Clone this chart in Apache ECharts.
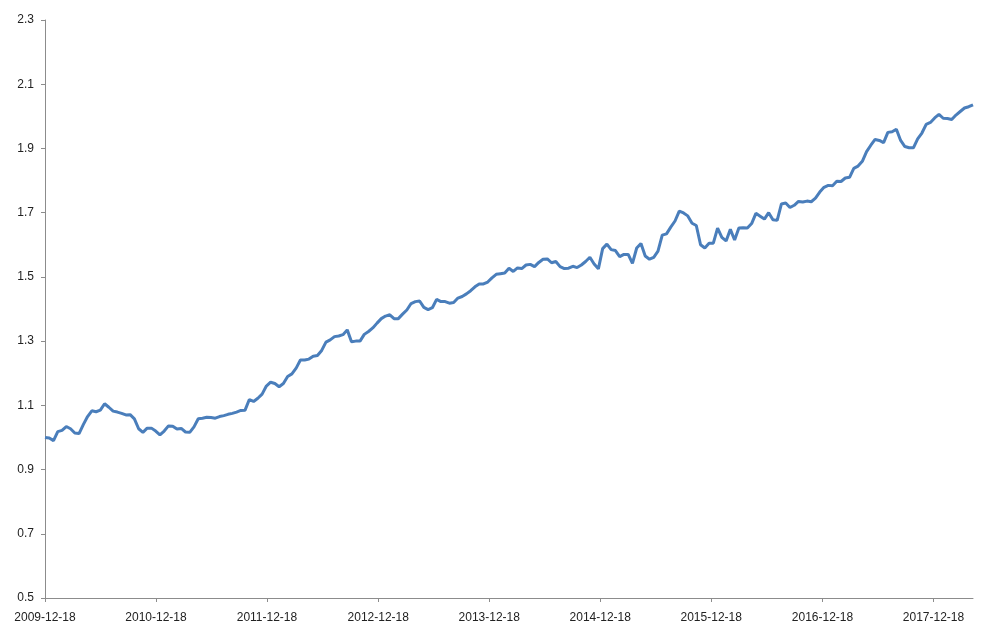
<!DOCTYPE html>
<html>
<head>
<meta charset="utf-8">
<script src="https://cdn.jsdelivr.net/npm/echarts@6/dist/echarts.min.js"></script>
<style>html,body{margin:0;padding:0;background:#fff}#c{width:990px;height:636px}</style>
</head>
<body>
<div id="c"></div>
<script>
// Biweekly series (every 14 days) starting 2009-12-18
const startDate = '2009-12-18';
const stepDays = 14;
const values = [
1.000,0.998,0.990,1.018,1.022,1.034,1.027,1.014,1.012,1.040,
1.065,1.083,1.080,1.085,1.105,1.094,1.082,1.079,1.075,1.070,
1.071,1.058,1.027,1.016,1.029,1.029,1.020,1.008,1.020,1.036,
1.035,1.026,1.028,1.017,1.016,1.033,1.058,1.060,1.063,1.062,
1.060,1.065,1.068,1.072,1.075,1.079,1.084,1.085,1.118,1.112,
1.122,1.135,1.160,1.172,1.168,1.158,1.168,1.190,1.198,1.216,
1.241,1.241,1.244,1.253,1.255,1.271,1.297,1.304,1.314,1.316,
1.320,1.335,1.298,1.300,1.300,1.321,1.330,1.341,1.356,1.370,
1.378,1.382,1.370,1.370,1.384,1.397,1.417,1.423,1.425,1.405,
1.398,1.404,1.430,1.423,1.423,1.418,1.420,1.434,1.439,1.447,
1.457,1.469,1.478,1.478,1.484,1.497,1.508,1.510,1.512,1.527,
1.517,1.528,1.526,1.537,1.539,1.532,1.545,1.555,1.556,1.544,
1.548,1.532,1.526,1.527,1.533,1.529,1.537,1.548,1.561,1.540,
1.525,1.588,1.602,1.585,1.582,1.563,1.570,1.570,1.542,1.590,
1.604,1.565,1.555,1.561,1.580,1.630,1.634,1.655,1.674,1.705,
1.699,1.690,1.667,1.660,1.600,1.590,1.605,1.605,1.652,1.623,
1.612,1.648,1.615,1.652,1.653,1.652,1.666,1.698,1.689,1.680,
1.700,1.678,1.676,1.727,1.730,1.716,1.723,1.735,1.733,1.736,
1.734,1.745,1.764,1.779,1.785,1.784,1.798,1.797,1.808,1.810,
1.838,1.845,1.860,1.890,1.910,1.928,1.925,1.918,1.950,1.952,
1.960,1.925,1.906,1.902,1.902,1.930,1.948,1.975,1.981,1.995,
2.006,1.994,1.993,1.990,2.004,2.015,2.026,2.030,2.036
];
const xLabels = ['2009-12-18','2010-12-18','2011-12-18','2012-12-18','2013-12-18','2014-12-18','2015-12-18','2016-12-18','2017-12-18'];
const yMin = 0.5, yMax = 2.3, yStep = 0.2;

const DAY = 86400000;
function parseUTC(s){ const p = s.split('-').map(Number); return Date.UTC(p[0], p[1]-1, p[2]); }
function fmtDays(n){ const d = new Date(parseUTC(startDate) + Math.round(n)*DAY);
  const m = d.getUTCMonth()+1, dd = d.getUTCDate();
  return d.getUTCFullYear()+'-'+(m<10?'0':'')+m+'-'+(dd<10?'0':'')+dd; }
const t0 = parseUTC(startDate);
const data = values.map((v,i)=>[i*stepDays, v]);
const labelDays = xLabels.map(s=>Math.round((parseUTC(s)-t0)/DAY));

const chart = echarts.init(document.getElementById('c'));
chart.setOption({
  animation: false,
  backgroundColor: '#fff',
  grid: { left: 45, right: 17, top: 20, bottom: 38, containLabel: false },
  xAxis: {
    type: 'value',
    min: 0,
    max: data[data.length-1][0],
    axisLine: { show: true, lineStyle: { color: '#8c8c8c', width: 1 } },
    axisTick: { show: true, customValues: labelDays, length: 4, lineStyle: { color: '#8c8c8c' } },
    axisLabel: { customValues: labelDays, formatter: (v)=>fmtDays(v), margin: 14, color: '#222', fontSize: 12, fontFamily: 'Liberation Sans, Arial, sans-serif', showMaxLabel: true, showMinLabel: true },
    splitLine: { show: false }
  },
  yAxis: {
    type: 'value',
    min: yMin, max: yMax, interval: yStep,
    axisLine: { show: true, lineStyle: { color: '#8c8c8c', width: 1 } },
    axisTick: { show: true, length: 4, lineStyle: { color: '#8c8c8c' } },
    axisLabel: { formatter: (v)=>v.toFixed(1), margin: 11, color: '#222', fontSize: 12, fontFamily: 'Liberation Sans, Arial, sans-serif' },
    splitLine: { show: false }
  },
  series: [{
    type: 'line',
    data: data,
    showSymbol: false,
    symbol: 'none',
    lineStyle: { color: '#4a7ebb', width: 3 },
    itemStyle: { color: '#4a7ebb' }
  }]
});
</script>
</body>
</html>
